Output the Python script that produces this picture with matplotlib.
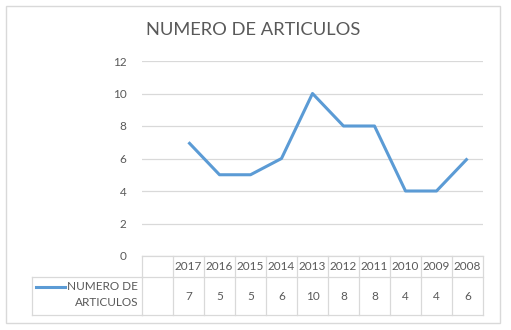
import matplotlib
matplotlib.use("Agg")
import matplotlib.pyplot as plt
from matplotlib.transforms import blended_transform_factory
from matplotlib.lines import Line2D
from matplotlib.patches import Rectangle

# ---- data ----
categories = ["", "2017", "2016", "2015", "2014", "2013", "2012", "2011", "2010", "2009", "2008"]
values = [None, 7, 5, 5, 6, 10, 8, 8, 4, 4, 6]
series_name = "NUMERO DE ARTICULOS"
title = "NUMERO DE ARTICULOS"
yticks = [0, 2, 4, 6, 8, 10, 12]

W, H = 511, 330
plt.rcParams['font.family'] = ['Lato', 'DejaVu Sans']
TXT = '#595959'
GRID = '#D9D9D9'
LINEC = '#5B9BD5'
FS = 8.5

fig = plt.figure(figsize=(W / 100, H / 100), dpi=100)

def fx(px):
    return px / W

def fy(py):
    return 1 - py / H

ax = fig.add_axes([fx(142), fy(256), fx(483) - fx(142), fy(61) - fy(256)])

xs = [i for i, v in enumerate(values) if v is not None]
ys = [v for v in values if v is not None]
ax.plot(xs, ys, color=LINEC, lw=2.2, solid_joinstyle='round', solid_capstyle='butt', zorder=3)

ax.set_xlim(-0.5, len(categories) - 0.5)
ax.set_ylim(0, 12)
ax.set_yticks(yticks)
ax.set_yticklabels([str(t) for t in yticks], color=TXT, fontsize=FS)
ax.tick_params(axis='y', length=0, pad=11)
ax.set_xticks([])
for s in ax.spines.values():
    s.set_visible(False)
ax.grid(axis='y', color=GRID, lw=0.9)
ax.set_axisbelow(True)

# title
fig.text(fx(253), fy(30), title, ha='center', va='center', fontsize=13.2, color=TXT)

# chart border
fig.patches.append(Rectangle((fx(6), fy(323)), fx(500) - fx(6), fy(6) - fy(323),
                             transform=fig.transFigure, fill=False, ec=GRID, lw=1.0))

# data table
tr = blended_transform_factory(ax.transData, fig.transFigure)
n = len(categories)
y_top, y_mid, y_bot = fy(256), fy(277), fy(315)
ax_left = -0.5
ax_right = n - 0.5
fig.lines.append(Line2D([ax_left, ax_right], [y_top, y_top], transform=tr, color=GRID, lw=0.9))
for yy in (y_mid, y_bot):
    l1 = Line2D([fx(32), fx(142)], [yy, yy], transform=fig.transFigure, color=GRID, lw=0.9)
    l2 = Line2D([ax_left, ax_right], [yy, yy], transform=tr, color=GRID, lw=0.9)
    fig.lines.extend([l1, l2])
for k in range(n + 1):
    fig.lines.append(Line2D([k - 0.5, k - 0.5], [y_top, y_bot], transform=tr, color=GRID, lw=0.9))
fig.lines.append(Line2D([fx(32), fx(32)], [y_mid, y_bot], transform=fig.transFigure, color=GRID, lw=0.9))

for i, (c, v) in enumerate(zip(categories, values)):
    if c:
        fig.text(i, fy(267), c, transform=tr, ha='center', va='center', fontsize=FS, color=TXT)
    if v is not None:
        fig.text(i, fy(297), str(v), transform=tr, ha='center', va='center', fontsize=FS, color=TXT)

# legend key
fig.lines.append(Line2D([fx(36), fx(65)], [fy(287), fy(287)], transform=fig.transFigure, color=LINEC, lw=2.2))
words = series_name.split(" ")
fig.text(fx(138), fy(287), " ".join(words[:2]), ha='right', va='center', fontsize=FS, color=TXT)
fig.text(fx(138), fy(302), " ".join(words[2:]), ha='right', va='center', fontsize=FS, color=TXT)

fig.savefig("out.png", dpi=100)
